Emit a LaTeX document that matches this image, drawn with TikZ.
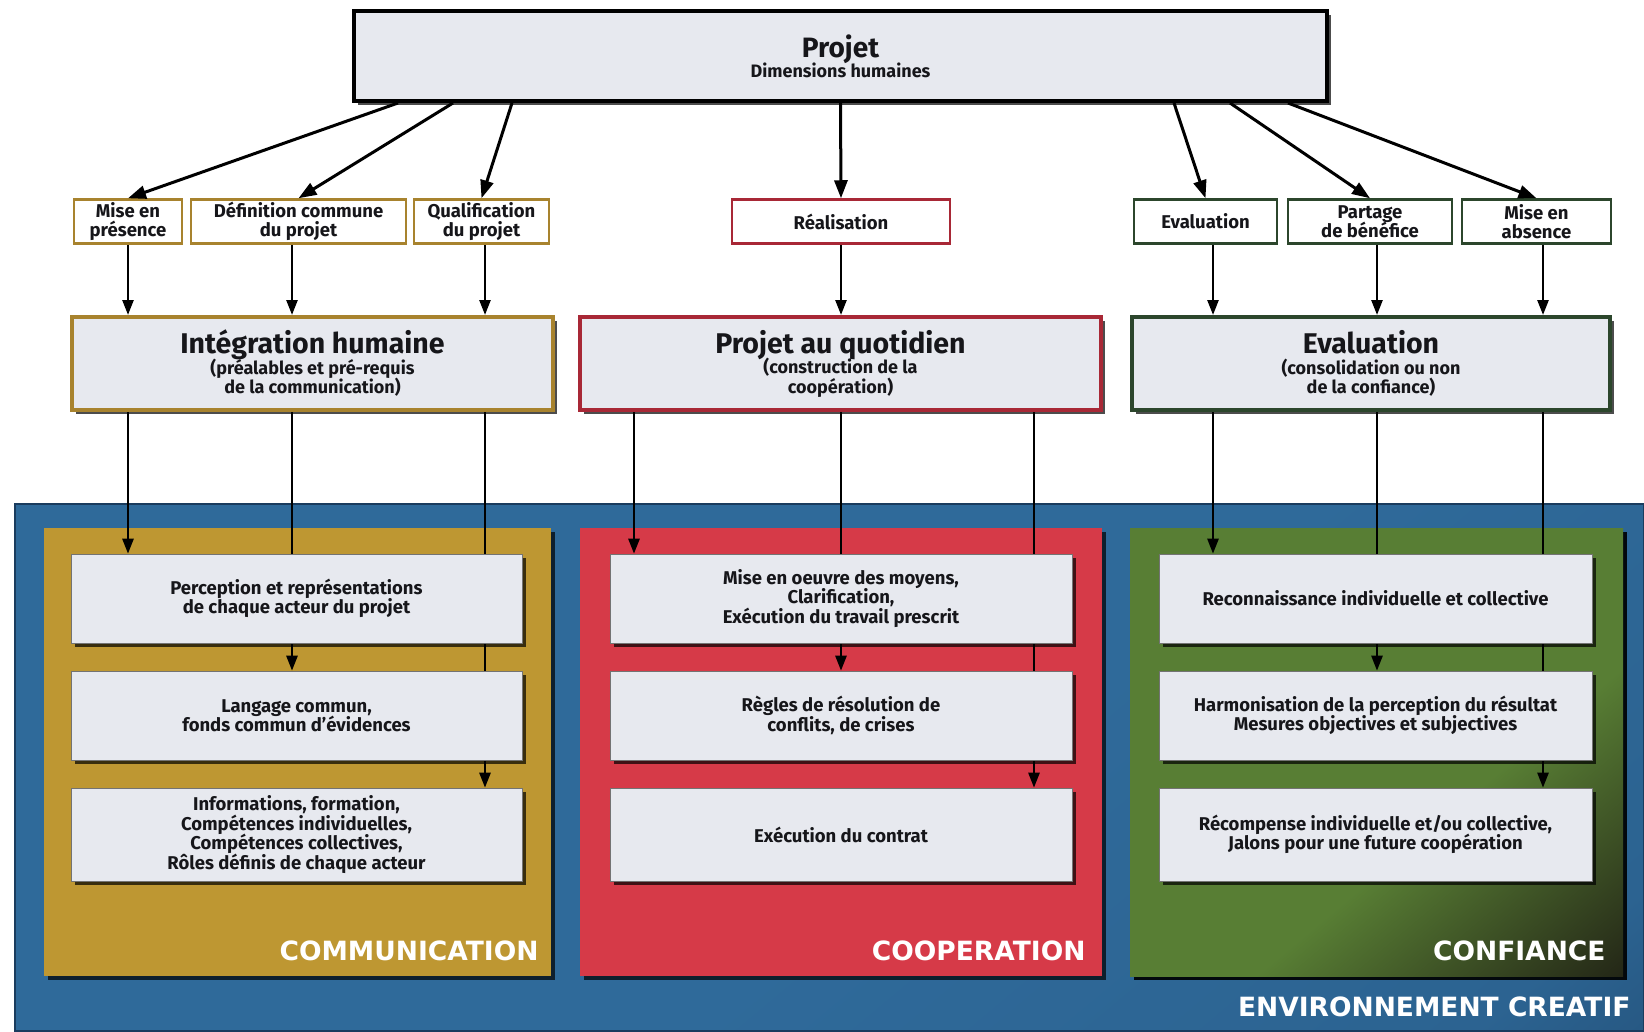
\documentclass[tikz,border=0pt]{standalone}
\usepackage{fontspec}
\setmainfont{Fira Sans}
\newfontfamily\labelfont{DejaVu Sans}
\usetikzlibrary{arrows.meta}
\usetikzlibrary{shadows}
\usetikzlibrary{calc}
\usetikzlibrary{positioning}

\definecolor{envblue}{RGB}{47,106,154}
\definecolor{envdark}{RGB}{26,60,94}
\definecolor{comgold}{RGB}{190,151,50}
\definecolor{comedge}{RGB}{168,131,46}
\definecolor{coopred}{RGB}{214,58,72}
\definecolor{coopedge}{RGB}{168,40,54}
\definecolor{confgreen}{RGB}{88,126,52}
\definecolor{confdark}{RGB}{34,36,22}
\definecolor{confedge}{RGB}{44,70,44}
\definecolor{boxfill}{RGB}{231,233,239}
\definecolor{ink}{RGB}{22,22,26}

\newcommand{\boxlines}{\lineskiplimit=-20pt\relax}

\pgfdeclarelayer{background}
\pgfdeclarelayer{behind}
\pgfsetlayers{background,behind,main}

\pgfdeclareverticalshading{confshade}{100bp}{color(0bp)=(confdark); color(14bp)=(confdark); color(40bp)=(confgreen); color(100bp)=(confgreen)}
\pgfdeclareverticalshading{envshade}{100bp}{color(0bp)=(envdark); color(20bp)=(envblue!85!envdark); color(45bp)=(envblue); color(100bp)=(envblue)}

\begin{document}
\begin{tikzpicture}[x=1pt,y=-1pt,
    shade/.style={drop shadow={shadow xshift=4pt,shadow yshift=-4pt,fill=black,opacity=.7}},
    topbox/.style={draw=black,line width=4pt,fill=boxfill,minimum width=973pt,minimum height=90pt,align=center,text=ink,font=\fontsize{18}{21}\selectfont\bfseries,shade},
    smallbox/.style={draw=#1,line width=2.5pt,fill=white,minimum height=44pt,inner sep=1pt,align=center,text=ink,font=\fontsize{18.5}{18.5}\selectfont\bfseries\boxlines},
    midbox/.style={draw=#1,line width=4pt,fill=boxfill,minimum height=93pt,align=center,text=ink,font=\fontsize{18}{19.5}\selectfont\bfseries\boxlines,shade},
    rowbox/.style={draw=black!55,line width=.6pt,fill=boxfill,minimum width=#1,minimum height=89pt,align=center,text=ink,font=\fontsize{18.5}{19.5}\selectfont\bfseries\boxlines,shade},
    panellabel/.style={anchor=east,text=white,font=\labelfont\fontsize{26.5}{30}\selectfont\bfseries},
    toparr/.style={line width=3pt,-{Triangle[length=18pt,width=13pt]}},
    arr/.style={line width=2.5pt,-{Triangle[length=15pt,width=11pt]}}]

    \useasboundingbox (0,0) rectangle (1644,1031);

    % columns of the lines
    \coordinate (c1) at (128,0);
    \coordinate (c2) at (292,0);
    \coordinate (c3) at (485,0);
    \coordinate (c4) at (634,0);
    \coordinate (c5) at (841,0);
    \coordinate (c6) at (1034,0);
    \coordinate (c7) at (1213,0);
    \coordinate (c8) at (1377,0);
    \coordinate (c9) at (1543,0);

    \begin{pgfonlayer}{background}
        \fill[white] (0,0) rectangle (1644,1031);
        \shade[shading=envshade,shading angle=40,draw=envdark,line width=1.5pt] (15,504) rectangle (1644,1031);
        \fill[comgold,shade] (44,528) rectangle (551,976);
        \fill[coopred,shade] (580,528) rectangle (1102,976);
        \shade[shading=confshade,shading angle=40,shade] (1130,528) rectangle (1623,976);
    \end{pgfonlayer}

    \node[topbox] (projet) at (840.5,56) {{\fontsize{28}{30}\selectfont Projet}\\[-1pt]Dimensions humaines};

    \node[smallbox=comedge,minimum width=108pt] (mep) at (128,221.5) {Mise en\\présence};
    \node[smallbox=comedge,minimum width=215pt] (defc) at (298.5,221.5) {Définition commune\\du projet};
    \node[smallbox=comedge,minimum width=135pt] (qual) at (481.5,221.5) {Qualification\\du projet};
    \node[smallbox=coopedge,minimum width=218pt] (real) at (841,221.5) {Réalisation};
    \node[smallbox=confedge,minimum width=143pt] (eval) at (1205.5,221.5) {Evaluation};
    \node[smallbox=confedge,minimum width=164pt] (part) at (1370,221.5) {Partage\\de bénéfice};
    \node[smallbox=confedge,minimum width=149pt] (mea) at (1536.5,221.5) {Mise en\\absence};

    \node[midbox=comedge,minimum width=481pt] (integ) at (312.5,363.5) {{\fontsize{28.5}{30}\selectfont Intégration humaine}\\[1pt](préalables et pré-requis\\de la communication)};
    \node[midbox=coopedge,minimum width=521pt] (quot) at (840.5,363.5) {{\fontsize{28.5}{30}\selectfont Projet au quotidien}\\[1pt](construction de la\\coopération)};
    \node[midbox=confedge,minimum width=478pt] (evalm) at (1371,363.5) {{\fontsize{28.5}{30}\selectfont Evaluation}\\[1pt](consolidation ou non\\de la confiance)};

    \node[rowbox=451pt] (com1) at (296.5,598.5) {Perception et représentations\\de chaque acteur du projet};
    \node[rowbox=451pt] (com2) at (296.5,715.5) {Langage commun,\\fonds commun d'évidences};
    \node[rowbox=451pt,minimum height=93pt] (com3) at (296.5,834.5) {Informations, formation,\\Compétences individuelles,\\Compétences collectives,\\Rôles définis de chaque acteur};

    \node[rowbox=462pt] (coop1) at (841,598.5) {Mise en oeuvre des moyens,\\Clarification,\\Exécution du travail prescrit};
    \node[rowbox=462pt] (coop2) at (841,715.5) {Règles de résolution de\\conflits, de crises};
    \node[rowbox=462pt,minimum height=93pt] (coop3) at (841,834.5) {Exécution du contrat};

    \node[rowbox=433pt] (conf1) at (1375.5,598.5) {Reconnaissance individuelle et collective};
    \node[rowbox=433pt] (conf2) at (1375.5,715.5) {Harmonisation de la perception du résultat\\Mesures objectives et subjectives};
    \node[rowbox=433pt,minimum height=93pt] (conf3) at (1375.5,834.5) {Récompense individuelle et/ou collective,\\Jalons pour une future coopération};

    \node[panellabel] (comlabel) at (542,951) {COMMUNICATION};
    \node[panellabel] (cooplabel) at (1089,951) {COOPERATION};
    \node[panellabel] (conflabel) at (1609,951) {CONFIANCE};
    \node[panellabel] (envlabel) at (1634,1007) {ENVIRONNEMENT CREATIF};

    % from the project to the dimensions
    \draw[toparr] ([xshift=46pt]projet.south west) -- (mep.north);
    \draw[toparr] ([xshift=101pt]projet.south west) -- (defc.north);
    \draw[toparr] ([xshift=160pt]projet.south west) -- (qual.north);
    \draw[toparr] (projet.south) -- (real.north);
    \draw[toparr] ([xshift=-155pt]projet.south east) -- (eval.north);
    \draw[toparr] ([xshift=-99pt]projet.south east) -- (part.north);
    \draw[toparr] ([xshift=-41pt]projet.south east) -- (mea.north);

    \draw[arr] (mep.south -| c1) -- (integ.north -| c1);
    \draw[arr] (defc.south -| c2) -- (integ.north -| c2);
    \draw[arr] (qual.south -| c3) -- (integ.north -| c3);
    \draw[arr] (real.south -| c5) -- (quot.north -| c5);
    \draw[arr] (eval.south -| c7) -- (evalm.north -| c7);
    \draw[arr] (part.south -| c8) -- (evalm.north -| c8);
    \draw[arr] (mea.south -| c9) -- (evalm.north -| c9);

    % down into the columns, behind the boxes
    \begin{pgfonlayer}{behind}
        \draw[arr] (integ.south -| c1) -- (com1.north -| c1);
        \draw[arr] (integ.south -| c2) -- (com2.north -| c2);
        \draw[arr] (integ.south -| c3) -- (com3.north -| c3);
        \draw[arr] (quot.south -| c4) -- (coop1.north -| c4);
        \draw[arr] (quot.south -| c5) -- (coop2.north -| c5);
        \draw[arr] (quot.south -| c6) -- (coop3.north -| c6);
        \draw[arr] (evalm.south -| c7) -- (conf1.north -| c7);
        \draw[arr] (evalm.south -| c8) -- (conf2.north -| c8);
        \draw[arr] (evalm.south -| c9) -- (conf3.north -| c9);
    \end{pgfonlayer}
\end{tikzpicture}
\end{document}
